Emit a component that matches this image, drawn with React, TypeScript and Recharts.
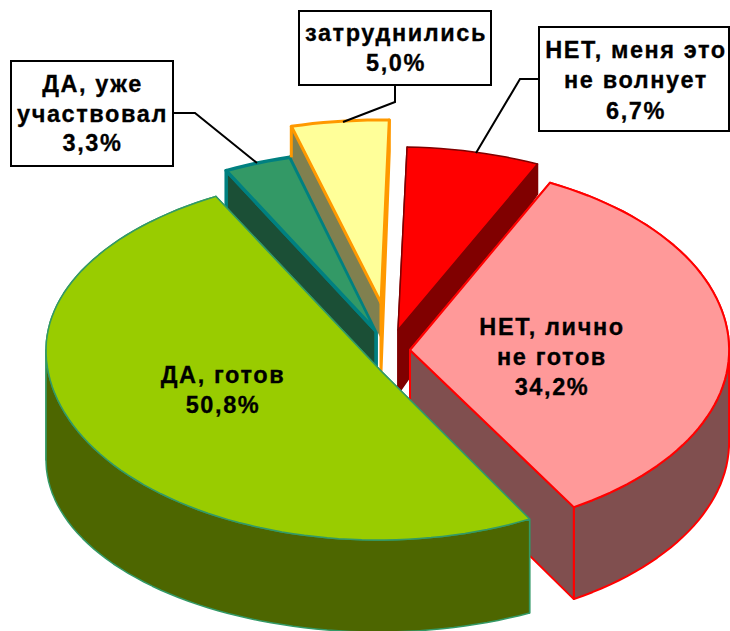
import React from 'react';
import { PieChart, Pie } from 'recharts';

const sliceLabels = [
  ['ДА, уже', 'участвовал'],
  ['затруднились'],
  ['НЕТ, меня это', 'не волнует'],
  ['НЕТ, лично', 'не готов'],
  ['ДА, готов'],
];
const sliceValues = [3.3, 5.0, 6.7, 34.2, 50.8];
const sliceFills = ['#339966', '#FFFF99', '#FF0000', '#FF9999', '#99CC00'];
const sliceWalls = ['#1B4F36', '#80804F', '#800000', '#804F4F', '#4D6600'];
const sliceStrokes = ['#008080', '#FF9900', '#800000', '#FF0000', '#339966'];
const sliceStrokeWidths = [3.5, 3, 1.5, 2, 1.5];

const PIE_CX = 381;
const PIE_CY = 372;
const PIE_R = 330;
const FIRST_ANGLE = 333; // clockwise from 12 o'clock

// how each exploded slice sits in the tilted view
// dx,dy: arc centre from pie centre, ax,ay: tip from arc centre, trim: small angle corrections
// wall: [depth, change with cos], tipDepth / firstTipDepth: wall height under the tip
const views = [
  { dx: -5, dy: -41, ax: 0, ay: 0, sx: 1, top: 180, bottom: 180, trim: [0, 0], wall: [38, 0], tipDepth: 64, firstTipDepth: 64, back: true, firstOnTop: true },
  { dx: 0, dy: -69, ax: 0, ay: 0, sx: 1.042, top: 183, bottom: 183, trim: [0, -1.5], wall: [31, 0], tipDepth: 68, firstTipDepth: 36, back: true, plainFirstWall: true },
  { dx: 17, dy: -42, ax: 0, ay: 0, sx: 1, top: 183, bottom: 183, trim: [-1.3, -2], wall: [30, 0], tipDepth: 64, firstTipDepth: 64, back: true },
  { dx: 29, dy: -22, ax: 0, ay: 0, sx: 0.967, top: 186, bottom: 183, trim: [-1, -1], wall: [92, 0], tipDepth: 88, firstTipDepth: 88 },
  { dx: -3, dy: -22, ax: 3, ay: 21, sx: 1.006, top: 176, bottom: 190, trim: [2.7, -2.2], wall: [110, 18], tipDepth: 90, firstTipDepth: 90, wallsUnder: true },
];

// callouts and inner captions
const captions = [
  { x: 92.5, lines: [92, 122, 151], box: [11, 61, 162, 105], leader: [[173, 113], [195, 113], [257, 163]] },
  { x: 396, lines: [41, 71], box: [299, 11, 192, 74], leader: [[395, 85], [395, 102], [343, 122]] },
  { x: 636, lines: [58, 88, 119], box: [539, 27, 190, 104], leader: [[541, 79], [520, 79], [476, 153]] },
  { x: 552, lines: [335, 365, 395] },
  { x: 223, lines: [383, 413] },
];

const data = sliceValues.map((value, i) => ({ id: i, name: sliceLabels[i].join(' '), value }));

const path = (pts: number[][], close = true) =>
  'M' + pts.map((p) => `${p[0].toFixed(1)},${p[1].toFixed(1)}`).join('L') + (close ? 'Z' : '');

const SliceShape = (props: any) => {
  const id = props.payload?.id ?? props.id;
  const v = views[id];
  const cx = props.cx + v.dx;
  const cy = props.cy + v.dy;
  const rx = props.outerRadius * v.sx;
  const a0 = 90 - props.startAngle + v.trim[0];
  const a1 = 90 - props.endAngle + v.trim[1];

  const project = (deg: number) => {
    const t = (deg * Math.PI) / 180;
    const c = Math.cos(t);
    return [cx + rx * Math.sin(t), cy - (c > 0 ? v.top : v.bottom) * c, v.wall[0] + v.wall[1] * c];
  };
  const down = (p: number[]) => [p[0], p[1] + p[2]];

  const arc: number[][] = [];
  const steps = Math.max(4, Math.ceil((a1 - a0) / 2));
  const angleAt = (i: number) => a0 + ((a1 - a0) * i) / steps;
  for (let i = 0; i <= steps; i++) arc.push(project(angleAt(i)));
  const tip = [cx + v.ax, cy + v.ay];
  const first = arc[0];
  const last = arc[arc.length - 1];
  const tipBelow = [tip[0], tip[1] + v.tipDepth];
  const tipBelowFirst = [tip[0], tip[1] + v.firstTipDepth];

  // the outer wall is cut where the rim turns back (3 and 9 o'clock) so each part fills on its own
  const halfTurn = (deg: number) => Math.floor((deg - 90) / 180);
  const runs: number[][][] = [];
  let run: number[][] = [];
  for (let i = 0; i <= steps; i++) {
    run.push(arc[i]);
    if (i < steps && halfTurn(angleAt(i)) !== halfTurn(angleAt(i + 1))) {
      const p = project(90 + 180 * halfTurn(angleAt(i + 1)));
      run.push(p);
      runs.push(run);
      run = [p];
    }
  }
  runs.push(run);
  // far part of the rim goes down first
  const midY = (r: number[][]) => r[Math.floor(r.length / 2)][1];
  runs.sort((a, b) => midY(a) - midY(b));

  const common = {
    stroke: sliceStrokes[id],
    strokeWidth: sliceStrokeWidths[id],
    strokeLinejoin: 'round' as const,
  };
  const firstWall = (
    <path
      key="first"
      d={path([tip, first, down(first), tipBelowFirst])}
      fill={sliceWalls[id]}
      {...common}
      stroke={v.plainFirstWall ? 'none' : common.stroke}
    />
  );
  const lastWall = <path key="last" d={path([tip, last, down(last), tipBelow])} fill={sliceWalls[id]} {...common} />;
  const walls = v.firstOnTop ? [lastWall, firstWall] : [firstWall, lastWall];
  const rim = v.back
    ? null
    : runs.map((r, i) => (
        <path key={i} d={path([...r, ...r.map(down).reverse()])} fill={sliceWalls[id]} {...common} />
      ));
  return (
    <g>
      {v.wallsUnder ? walls : rim}
      {v.wallsUnder ? rim : walls}
      {v.plainFirstWall && <path d={path([first, down(first)], false)} fill="none" {...common} />}
      <path d={path([tip, ...arc])} fill={sliceFills[id]} {...common} />
    </g>
  );
};

const renderCaption = (props: any) => {
  const id = props.payload?.id ?? props.id;
  const c = captions[id];
  const lines = [...sliceLabels[id], sliceValues[id].toFixed(1).replace('.', ',') + '%'];
  return (
    <g key={id}>
      {c.leader && <path d={path(c.leader, false)} fill="none" stroke="#000" strokeWidth={2} />}
      {c.box && (
        <rect x={c.box[0]} y={c.box[1]} width={c.box[2]} height={c.box[3]} fill="#fff" stroke="#000" strokeWidth={2} />
      )}
      {lines.map((line, i) => (
        <text
          key={i}
          x={c.x}
          y={c.lines[i]}
          textAnchor="middle"
          fontFamily="'Liberation Sans', Arial, sans-serif"
          fontWeight="bold"
          fontSize={23.5}
          letterSpacing={1.6}
          fill="#000"
          stroke="#000"
          strokeWidth={0.3}
        >
          {line}
        </text>
      ))}
    </g>
  );
};

export default function App() {
  return (
    <div style={{ position: 'absolute', left: 0, top: 0, width: 730, height: 631, overflow: 'hidden', background: '#fff' }}>
      <PieChart width={730} height={631} margin={{ top: 0, right: 0, bottom: 0, left: 0 }}>
        <Pie
          data={data}
          dataKey="value"
          nameKey="name"
          cx={PIE_CX}
          cy={PIE_CY}
          innerRadius={0}
          outerRadius={PIE_R}
          startAngle={90 - FIRST_ANGLE}
          endAngle={90 - FIRST_ANGLE - 360}
          paddingAngle={0}
          shape={SliceShape}
          label={renderCaption}
          labelLine={false}
          rootTabIndex={-1}
          isAnimationActive={false}
        />
      </PieChart>
    </div>
  );
}
